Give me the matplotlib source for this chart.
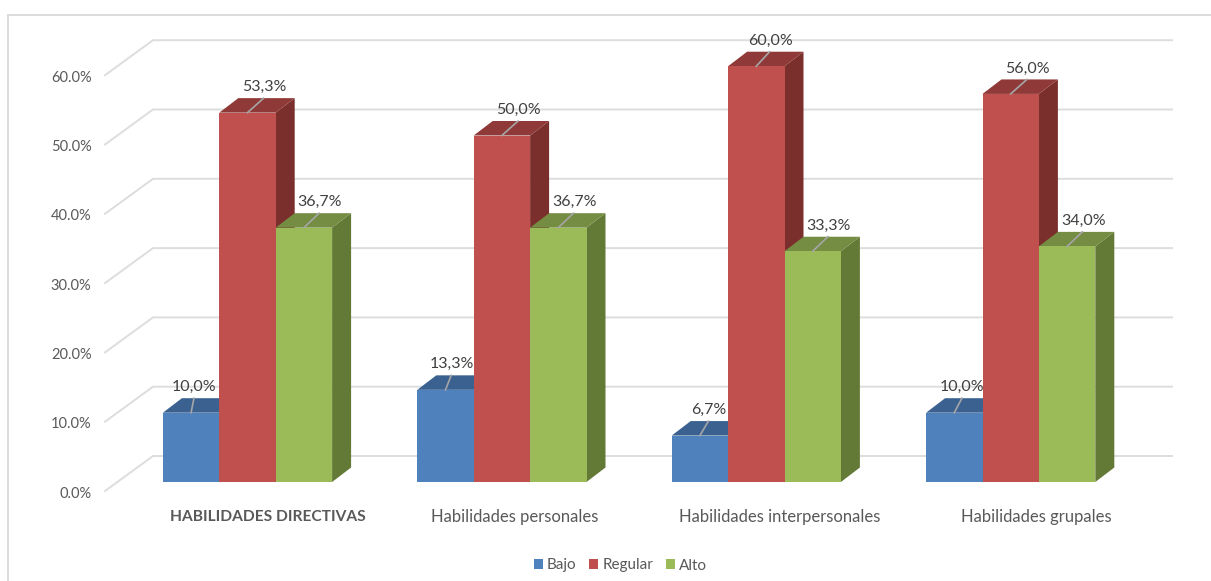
import matplotlib
matplotlib.use("Agg")
import matplotlib.pyplot as plt
from matplotlib.patches import Polygon, Rectangle

plt.rcParams['font.family'] = ['Lato', 'DejaVu Sans']

categories = ["HABILIDADES DIRECTIVAS", "Habilidades personales",
              "Habilidades interpersonales", "Habilidades grupales"]
series_names = ["Bajo", "Regular", "Alto"]
bajo = [10.0, 13.3, 6.7, 10.0]
regular = [53.3, 50.0, 60.0, 56.0]
alto = [36.7, 36.7, 33.3, 34.0]
value_labels = [["10,0%", "13,3%", "6,7%", "10,0%"],
                ["53,3%", "50,0%", "60,0%", "56,0%"],
                ["36,7%", "36,7%", "33,3%", "34,0%"]]
ticks = [0, 10, 20, 30, 40, 50, 60]

W, H = 1211, 581
PX = 254.4            # pixels per category
PY = 6.93             # pixels per percent
X0, Y0 = 247.5, 482   # category 0 centre and value 0 baseline, pixels

fig = plt.figure(figsize=(W / 100, H / 100), dpi=100)
ax = fig.add_axes([0, 0, 1, 1])
ax.set_xlim(-X0 / PX, (W - X0) / PX)
ax.set_ylim((Y0 - H) / PY, Y0 / PY)
ax.axis("off")

def dx(p): return p / PX
def dy(p): return p / PY

# outer frame
fr = "#D9D9D9"
ax.plot([8 / W, 8 / W], [0, 1 - 15 / H], transform=ax.transAxes, color=fr, lw=1.3)
ax.plot([8 / W, 1], [1 - 15 / H, 1 - 15 / H], transform=ax.transAxes, color=fr, lw=1.3)

# gridlines: slanted piece, then back wall
grid = "#DDDDDD"
left_front, left_back, right_back = dx(105 - X0), dx(153 - X0), dx(1172 - X0)
for t in ticks:
    yf = t + dy(482 - 491)
    yb = t + dy(482 - 456)
    ax.plot([left_front, left_back, right_back], [yf, yb, yb], color=grid, lw=1.4, zorder=1,
            solid_joinstyle="miter")
    ax.text(dx(91.5 - X0), yf - dy(2.5), f"{t}.0%", ha="right", va="center", fontsize=10.5,
            color="#595959")

# bars
bw = 56.4 / PX
front = ["#4F81BD", "#C0504D", "#9BBB59"]
top = ["#3A6190", "#8F3A38", "#748D42"]
side = ["#335579", "#7A2F2D", "#637A37"]
ddx, ddy = dx(19), dy(14.5)
label_off = [[3, 6, 9, 8], [17, 17, 14, 17], [16, 16, 16, 16]]
series = [bajo, regular, alto]

z = 3
for i in range(len(categories)):
    for s, vals in enumerate(series):
        v = vals[i]
        x0 = i + (s - 1.5) * bw
        x1 = x0 + bw
        ax.add_patch(Polygon([(x1, 0), (x1 + ddx, ddy), (x1 + ddx, v + ddy), (x1, v)],
                             fc=side[s], ec="none", zorder=z))
        ax.add_patch(Polygon([(x0, v), (x0 + ddx, v + ddy), (x1 + ddx, v + ddy), (x1, v)],
                             fc=top[s], ec="none", zorder=z))
        ax.bar(x0, v, width=bw, align="edge", color=front[s], zorder=z + 0.1)
        xc = x0 + bw / 2
        off = dx(label_off[s][i])
        ax.plot([xc, xc + off * 0.95], [v, v + ddy], color="#A6A6A6", lw=1.2, zorder=z + 0.2)
        ax.text(xc + off, v + ddy + dy(11), value_labels[s][i], ha="center", va="center",
                fontsize=11.5, color="#404040", zorder=z + 0.3)
        z += 1

# category labels
cat_off = [20.5, 12.6, 23, 26]
cat_size = [11.2, 12, 12, 12]
for i, c in enumerate(categories):
    ax.text(i + dx(cat_off[i]), dy(482 - 517), c, ha="center", va="center", fontsize=cat_size[i],
            fontweight="bold" if i == 0 else "normal", color="#595959")

# legend
handles = [Rectangle((0, 0), 1, 1, fc=c, ec="none") for c in front]
leg = fig.legend(handles, series_names, loc="center", bbox_to_anchor=(620.5 / W, 1 - 565.5 / H),
                 ncol=3, frameon=False, fontsize=11, labelcolor="#595959", handlelength=0.6,
                 handleheight=0.6, handletextpad=0.26, columnspacing=0.85)

fig.savefig("out.png", dpi=100)
